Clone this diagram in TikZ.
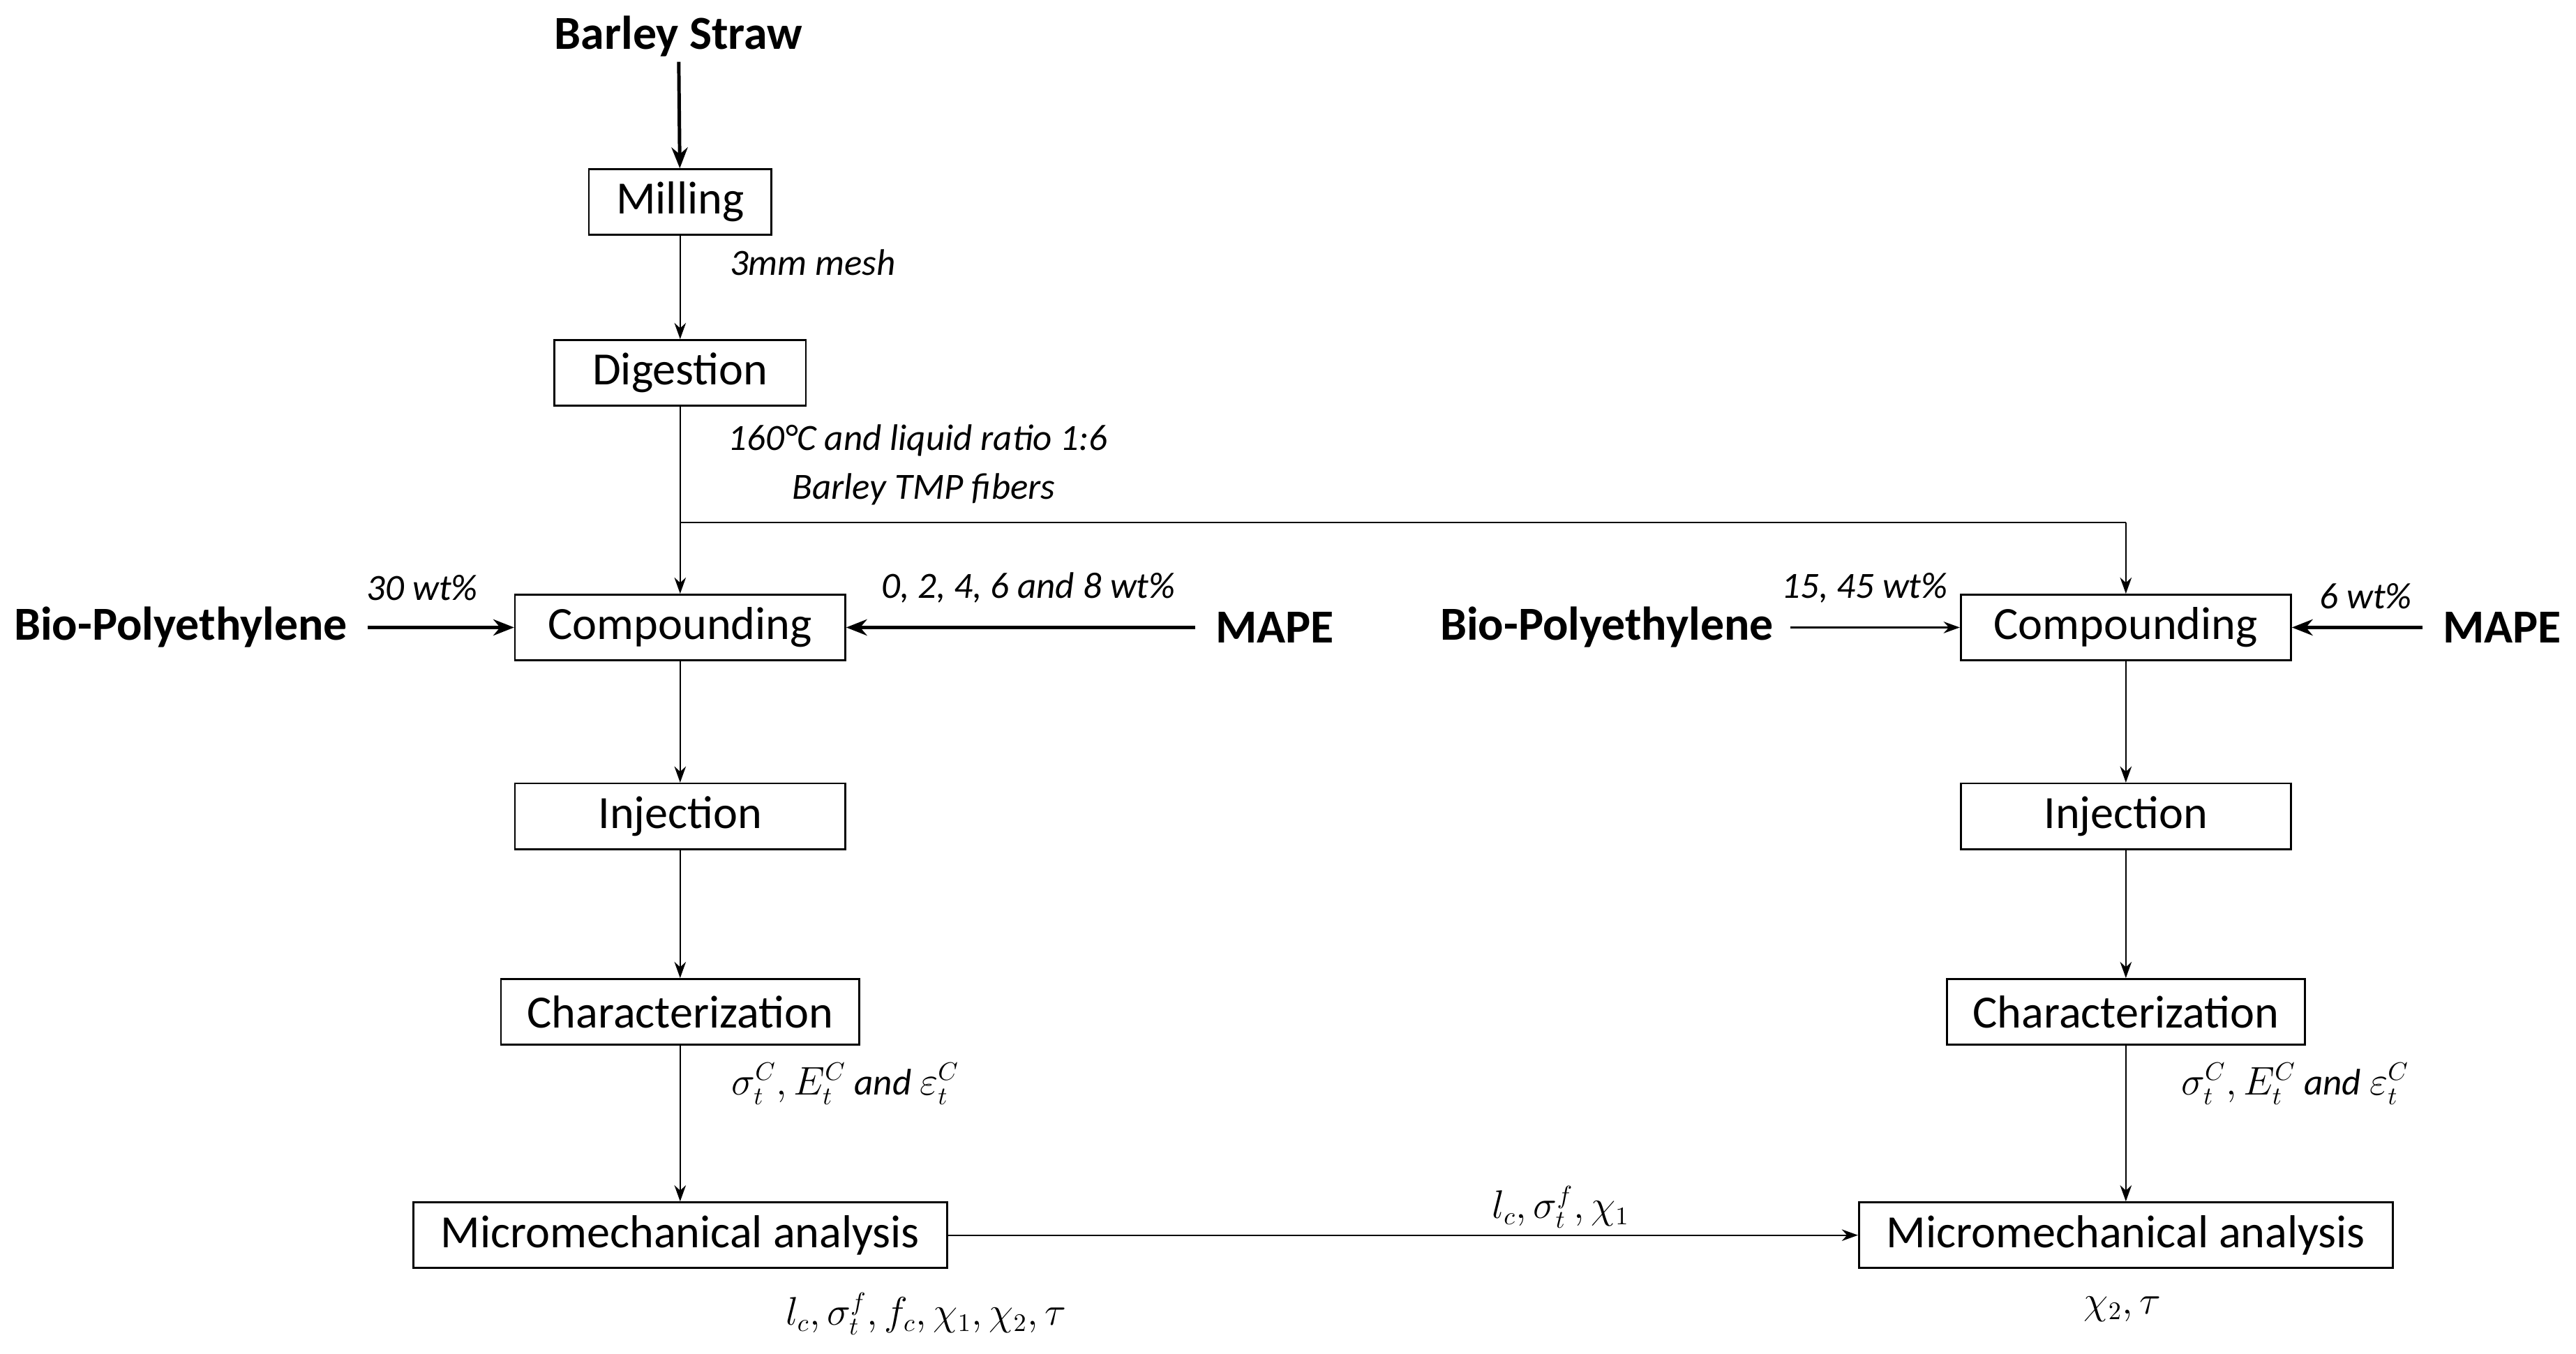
\documentclass[tikz,border=0pt]{standalone}
\usepackage{fontspec}
\setmainfont{Carlito}
\usetikzlibrary{arrows.meta}
\begin{document}
\begin{tikzpicture}[x=0.025cm,y=-0.025cm,
  box/.style={draw,line width=0.8pt,minimum height=40*0.025cm,inner sep=0pt,font=\fontsize{20}{24}\selectfont},
  lab/.style={font=\fontsize{16}{19}\selectfont\itshape,inner sep=0pt},
  big/.style={font=\fontsize{20.5}{24}\selectfont\bfseries,inner sep=0pt},
  ar/.style={-{Stealth[length=7pt,width=5pt]},line width=0.7pt},
  tar/.style={-{Stealth[length=9pt,width=7pt]},line width=1.5pt,shorten <=12*0.025cm}]
\useasboundingbox (0,0) rectangle (1568,824);
\node[big] (bs) at (413,22) {Barley Straw};
\node[box,minimum width=111*0.025cm] (mil) at (414,123) {Milling};
\node[box,minimum width=153*0.025cm] (dig) at (414,227) {Digestion};
\node[box,minimum width=201*0.025cm] (c1) at (414,382) {Compounding};
\node[box,minimum width=201*0.025cm] (i1) at (414,497) {Injection};
\node[box,minimum width=218*0.025cm] (ch1) at (414,616) {Characterization};
\node[box,minimum width=325*0.025cm] (m1) at (414,752) {Micromechanical analysis};
\node[box,minimum width=201*0.025cm] (c2) at (1294,382) {Compounding};
\node[box,minimum width=201*0.025cm] (i2) at (1294,497) {Injection};
\node[box,minimum width=218*0.025cm] (ch2) at (1294,616) {Characterization};
\node[box,minimum width=325*0.025cm] (m2) at (1294,752) {Micromechanical analysis};
\node[big] (bp1) at (110,382) {Bio-Polyethylene};
\node[big] (mp1) at (776,382) {MAPE};
\node[big] (bp2) at (978,382) {Bio-Polyethylene};
\node[big] (mp2) at (1523,382) {MAPE};
\coordinate (br) at (414,318);
\coordinate (brr) at (1294,318);
\draw[tar,shorten <=3*0.025cm] (bs) -- (mil);
\draw[ar] (mil) -- (dig);
\draw[ar] (dig) -- (c1);
\draw[ar,-] (br) -- (brr);
\draw[ar] (brr) -- (c2);
\draw[tar] (bp1) -- (c1);
\draw[tar] (mp1) -- (c1);
\draw[ar,line width=1pt,shorten <=10*0.025cm] (bp2) -- (c2);
\draw[tar] (mp2) -- (c2);
\draw[ar] (c1) -- (i1);
\draw[ar] (i1) -- (ch1);
\draw[ar] (ch1) -- (m1);
\draw[ar] (c2) -- (i2);
\draw[ar] (i2) -- (ch2);
\draw[ar] (ch2) -- (m2);
\draw[ar] (m1) -- (m2);
\node[lab,anchor=west] (t1) at (444,160) {3mm mesh};
\node[lab,anchor=west] (t2) at (443,268) {160°C and liquid ratio 1:6};
\node[lab,anchor=west] (t3) at (482,298) {Barley TMP fibers};
\node[lab] (t4) at (257,358) {30 wt\%};
\node[lab] (t5) at (626,358) {0, 2, 4, 6 and 8 wt\%};
\node[lab] (t6) at (1135,358) {15, 45 wt\%};
\node[lab] (t7) at (1440,363) {6 wt\%};
\node[lab,anchor=west] (t8) at (445,660) {$\sigma_t^C, E_t^C$ and $\varepsilon_t^C$};
\node[lab] (t9) at (1397,660) {$\sigma_t^C, E_t^C$ and $\varepsilon_t^C$};
\node[lab] (t10) at (950,735) {$l_c, \sigma_t^f, \chi_1$};
\node[lab,anchor=west] (t11) at (478,800) {$l_c, \sigma_t^f, f_c, \chi_1, \chi_2, \tau$};
\node[lab] (t12) at (1292,797) {$\chi_2, \tau$};
\end{tikzpicture}
\end{document}
